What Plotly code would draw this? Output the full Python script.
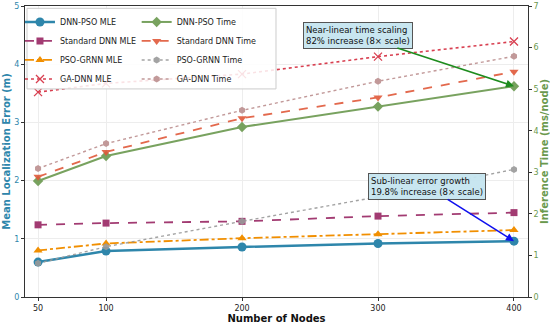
import plotly.graph_objects as go

nodes = [50, 100, 200, 300, 400]

mle_dnn_pso = [0.60, 0.79, 0.86, 0.92, 0.96]
mle_std_dnn = [1.24, 1.27, 1.30, 1.39, 1.45]
mle_pso_grnn = [0.80, 0.92, 1.01, 1.08, 1.15]
mle_ga_dnn = [3.52, 3.67, 3.83, 4.13, 4.39]

time_dnn_pso = [2.79, 3.39, 4.09, 4.58, 5.07]
time_std_dnn = [2.89, 3.49, 4.30, 4.80, 5.42]
time_pso_grnn = [0.81, 1.21, 1.82, 2.41, 3.07]
time_ga_dnn = [3.09, 3.69, 4.49, 5.19, 5.79]

x_ticks = [50, 100, 200, 300, 400]
left_ticks = [0, 1, 2, 3, 4, 5]
right_ticks = [0, 1, 2, 3, 4, 5, 6, 7]

BLUE = "#2E86AB"
PURPLE = "#A23B72"
ORANGE = "#F18F01"
RED = "#D83F50"
GREEN = "#6A994E"
ORANGERED = "#E0593A"
GRAY = "#9A9A9A"
ROSY = "#BC8F8F"
FONT = "DejaVu Sans"

fig = go.Figure()

def add(name, y, color, dash, symbol, msize, lw, yaxis, legend, opacity=1.0, mline=None):
    marker = dict(symbol=symbol, size=msize, color=color)
    if mline is not None:
        marker["line"] = dict(color=color, width=mline)
    fig.add_trace(go.Scatter(
        x=nodes, y=y, name=name, mode="lines+markers",
        line=dict(color=color, dash=dash, width=lw),
        marker=marker, yaxis=yaxis, legend=legend, opacity=opacity,
    ))

# Time series (right axis), drawn first so MLE lines sit above
add("DNN-PSO Time", time_dnn_pso, GREEN, "solid", "diamond", 8, 2.0, "y2", "legend2", 0.9)
add("Standard DNN Time", time_std_dnn, ORANGERED, "dash", "triangle-down", 8, 1.8, "y2", "legend2", 0.9)
add("PSO-GRNN Time", time_pso_grnn, GRAY, "dot", "hexagon", 7, 1.4, "y2", "legend2", 0.9)
add("GA-DNN Time", time_ga_dnn, ROSY, "dot", "hexagon", 7, 1.4, "y2", "legend2", 0.9)

# MLE series (left axis)
add("DNN-PSO MLE", mle_dnn_pso, BLUE, "solid", "circle", 9, 2.5, "y", "legend")
add("Standard DNN MLE", mle_std_dnn, PURPLE, "dash", "square", 7, 1.8, "y", "legend")
add("PSO-GRNN MLE", mle_pso_grnn, ORANGE, "dashdot", "triangle-up", 8, 1.8, "y", "legend")
add("GA-DNN MLE", mle_ga_dnn, RED, "dot", "x-thin-open", 8, 1.6, "y", "legend", mline=1.3)

box_bg = "rgba(197,229,239,0.95)"
fig.add_annotation(
    x=400, y=time_dnn_pso[-1], xref="x", yref="y2",
    ax=285, ay=6.30, axref="x", ayref="y2",
    text="Near-linear time scaling<br>82% increase (8× scale)",
    showarrow=True, arrowhead=2, arrowsize=1, arrowwidth=1.6, arrowcolor="#1E8C1E",
    bgcolor=box_bg, bordercolor="#555555", borderwidth=1, borderpad=2,
    font=dict(family=FONT, size=8.5, color="#111111"), align="left",
)
fig.add_annotation(
    x=400, y=mle_dnn_pso[-1], xref="x", yref="y",
    ax=336, ay=1.90, axref="x", ayref="y",
    text="Sub-linear error growth<br>19.8% increase (8× scale)",
    showarrow=True, arrowhead=2, arrowsize=1, arrowwidth=1.6, arrowcolor="#1010EE",
    bgcolor=box_bg, bordercolor="#555555", borderwidth=1, borderpad=2,
    font=dict(family=FONT, size=8.5, color="#111111"), align="left",
)

# legend frame around both legend columns
fig.add_shape(type="rect", xref="paper", yref="paper",
              x0=0.004, x1=0.499, y0=0.715, y1=0.992,
              fillcolor="rgba(255,255,255,0.85)", line=dict(color="#CCCCCC", width=1),
              layer="above")

axis_line = "#333333"
grid = "#EDEDED"

fig.update_layout(
    width=550, height=324,
    margin=dict(l=25, r=22, t=6, b=27, autoexpand=False),
    paper_bgcolor="white", plot_bgcolor="white",
    font=dict(family=FONT, size=8, color="#222222"),
    legend=dict(x=-0.01, y=0.995, xanchor="left", yanchor="top",
                bgcolor="rgba(0,0,0,0)", borderwidth=0, itemwidth=30,
                font=dict(family=FONT, size=8, color="#222222"), tracegroupgap=0),
    legend2=dict(x=0.222, y=0.995, xanchor="left", yanchor="top",
                 bgcolor="rgba(0,0,0,0)", borderwidth=0, itemwidth=30,
                 font=dict(family=FONT, size=8, color="#222222"), tracegroupgap=0),
    xaxis=dict(
        range=[40.4, 410.3], tickvals=x_ticks, ticktext=[str(v) for v in x_ticks],
        showline=True, linecolor=axis_line, linewidth=1, mirror=True,
        ticks="outside", ticklen=3, tickcolor=axis_line, automargin=False,
        showgrid=True, gridcolor=grid, gridwidth=0.8, zeroline=False,
        tickfont=dict(size=8, color="#222222"),
        title=dict(text="<b>Number of Nodes</b>", font=dict(size=10, color="#111111"), standoff=3),
    ),
    yaxis=dict(
        range=[0, 5], tickvals=left_ticks,
        showline=True, linecolor=axis_line, linewidth=1, mirror=True,
        ticks="outside", ticklen=3, tickcolor=axis_line, automargin=False,
        showgrid=True, gridcolor=grid, gridwidth=0.8, zeroline=False,
        tickfont=dict(size=8, color=BLUE),
        title=dict(text="<b>Mean Localization Error (m)</b>", font=dict(size=10, color=BLUE), standoff=1),
    ),
    yaxis2=dict(
        range=[0, 7], tickvals=right_ticks, overlaying="y", side="right",
        showline=True, linecolor=axis_line, linewidth=1,
        ticks="outside", ticklen=3, tickcolor=axis_line, automargin=False,
        showgrid=False, zeroline=False,
        tickfont=dict(size=8, color=GREEN),
        title=dict(text="<b>Inference Time (ms/node)</b>", font=dict(size=10, color=GREEN), standoff=1),
    ),
)

fig.write_html("out.html", config={"displayModeBar": False},
               post_script="document.body.style.margin='0px';")
